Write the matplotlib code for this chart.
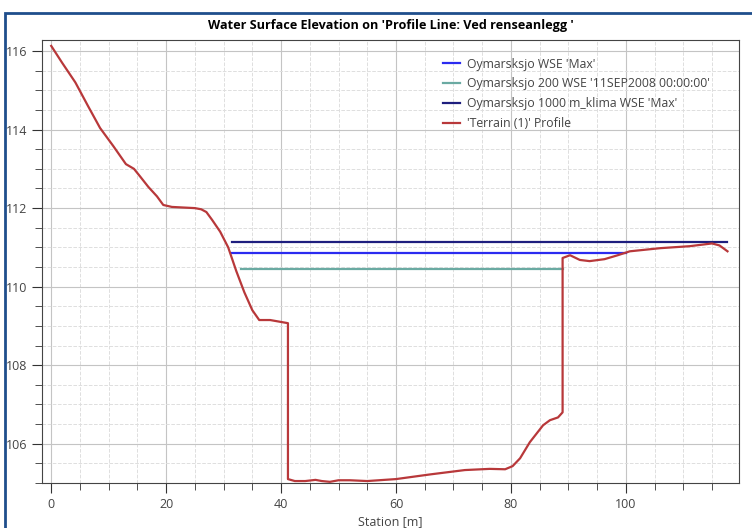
import matplotlib.pyplot as plt
from matplotlib.ticker import MultipleLocator
from matplotlib.patches import Rectangle

# terrain profile (station [m], elevation [m])
terrain_x = [0.0, 1.9, 4.2, 6.4, 8.5, 10.8, 13.0, 14.4, 15.5, 16.9, 18.4, 19.5, 21.0, 25.0,
             26.1, 27.0, 28.0, 29.4, 30.8, 32.2, 33.6, 35.0, 36.2, 38.1, 41.2, 41.2, 42.4,
             44.2, 46.0, 47.1, 48.5, 50.0, 52.0, 55.0, 60.0, 66.0, 72.0, 76.3, 79.0, 80.3,
             81.6, 83.3, 85.6, 86.8, 88.2, 89.0, 89.0, 90.3, 92.0, 93.7, 96.3, 98.6, 100.7,
             106.0, 111.1, 115.0, 116.3, 117.7]
terrain_y = [116.13, 115.7, 115.2, 114.6, 114.04, 113.58, 113.12, 113.0, 112.8, 112.54, 112.3,
             112.08, 112.03, 112.0, 111.97, 111.9, 111.7, 111.4, 111.0, 110.4, 109.86, 109.4,
             109.15, 109.15, 109.07, 105.1, 105.05, 105.05, 105.08, 105.05, 105.03, 105.07,
             105.07, 105.05, 105.1, 105.22, 105.33, 105.36, 105.35, 105.43, 105.63, 106.04,
             106.47, 106.6, 106.67, 106.8, 110.73, 110.8, 110.68, 110.65, 110.7, 110.8, 110.9,
             110.98, 111.03, 111.1, 111.05, 110.9]

# water surface elevations
wse_max_x = [31.5, 100.0]
wse_max_y = [110.85, 110.85]
wse_200_x = [33.0, 89.0]
wse_200_y = [110.45, 110.45]
wse_1000_x = [31.5, 117.7]
wse_1000_y = [111.14, 111.14]

plt.rcParams['font.family'] = ['Open Sans', 'DejaVu Sans']

fig = plt.figure(figsize=(7.52, 5.28), dpi=100)
ax = fig.add_axes([0.0559, 0.0852, 0.9268, 0.839])

ax.plot(wse_max_x, wse_max_y, color='#2b2bf0', lw=1.6, label="Oymarsksjo WSE 'Max'")
ax.plot(wse_200_x, wse_200_y, color='#6aaaa2', lw=1.6, label="Oymarsksjo 200 WSE '11SEP2008 00:00:00'")
ax.plot(wse_1000_x, wse_1000_y, color='#1e1e7e', lw=1.6, label="Oymarsksjo 1000 m_klima WSE 'Max'")
ax.plot(terrain_x, terrain_y, color='#b8383a', lw=1.6, label="'Terrain (1)' Profile")

ax.set_xlim(-1.6, 119.7)
ax.set_ylim(105.0, 116.28)
ax.xaxis.set_major_locator(MultipleLocator(20))
ax.xaxis.set_minor_locator(MultipleLocator(5))
ax.yaxis.set_major_locator(MultipleLocator(2))
ax.yaxis.set_minor_locator(MultipleLocator(0.5))
ax.grid(which='major', color='#c4c4c4', lw=0.8)
ax.grid(which='minor', color='#dedede', lw=0.7, ls='--')
ax.tick_params(which='both', direction='out', color='#333333', labelsize=9, labelcolor='#444444')
ax.tick_params(which='major', length=7)
ax.tick_params(which='minor', length=5)
for s in ax.spines.values():
    s.set_color('#444444')

ax.set_title("Water Surface Elevation on 'Profile Line: Ved renseanlegg '",
             fontsize=9.1, fontweight='bold', pad=8)
ax.set_xlabel('Station [m]', fontsize=9, color='#444444', labelpad=3)

ax.legend(loc='upper left', bbox_to_anchor=(0.56, 0.985), frameon=False, fontsize=8.8,
          handlelength=1.4, handletextpad=0.5, labelspacing=0.55, labelcolor='#444444')

# blue frame around the figure
fig.patches.append(Rectangle((5 / 752, -0.05), 1.2, 1 - 13 / 528 + 0.05,
                             transform=fig.transFigure, fill=False, edgecolor='#1f4e8c', lw=2))

fig.savefig('out.png', dpi=100)
